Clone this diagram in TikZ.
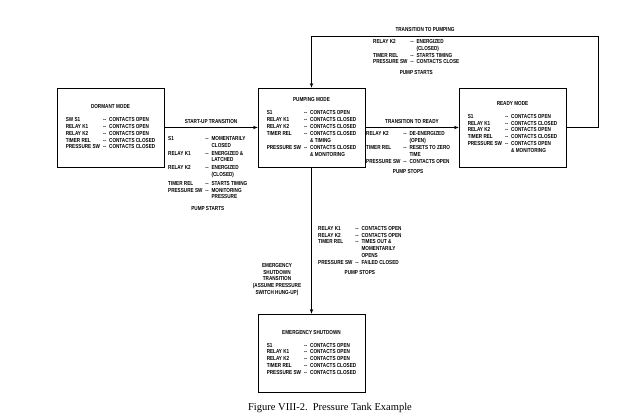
\documentclass[tikz,border=0pt]{standalone}
\usepackage{fontspec}
\setmainfont{Liberation Serif}
\newfontfamily\platefont[FakeStretch=0.8]{Liberation Sans}
\usetikzlibrary{arrows.meta,positioning}

\tikzset{
  modebox/.style={draw, line width=0.8pt, minimum width=107pt, minimum height=79pt, inner sep=0pt},
  plate/.style={font=\platefont\bfseries\fontsize{5.8}{6.8}\selectfont, inner sep=0pt},
  flow/.style={line width=0.8pt, -{Stealth[length=4.5pt,width=3.4pt]}},
}
\newcommand{\rowspec}{@{}l@{\hspace{3pt}}l@{\hspace{3pt}}l@{}}

\begin{document}
\begin{tikzpicture}[x=1pt,y=-1pt]
  \useasboundingbox (0,0) rectangle (635,420);

  % Drawing box Dormant mode
  \node [modebox, plate] (dormant) at (110.5,127.5) {%
    \begin{tabular}{\rowspec}
      \multicolumn{3}{c}{DORMANT MODE}\\[6pt]
      SW S1 & -- & CONTACTS OPEN\\
      RELAY K1 & -- & CONTACTS OPEN\\
      RELAY K2 & -- & CONTACTS OPEN\\
      TIMER REL & -- & CONTACTS CLOSED\\
      PRESSURE SW & -- & CONTACTS CLOSED
    \end{tabular}};

  % Drawing box Pumping mode
  \node [modebox, plate] (pumping) at (311.5,127.5) {%
    \begin{tabular}{\rowspec}
      \multicolumn{3}{c}{PUMPING MODE}\\[7pt]
      S1 & -- & CONTACTS OPEN\\
      RELAY K1 & -- & CONTACTS CLOSED\\
      RELAY K2 & -- & CONTACTS CLOSED\\
      TIMER REL & -- & CONTACTS CLOSED\\
      & & \& TIMING\\[1pt]
      PRESSURE SW & -- & CONTACTS CLOSED\\
      & & \& MONITORING
    \end{tabular}};

  % Drawing box Ready mode
  \node [modebox, plate] (ready) at (512.5,127.5) {%
    \begin{tabular}{\rowspec}
      \multicolumn{3}{c}{READY MODE}\\[6pt]
      S1 & -- & CONTACTS OPEN\\
      RELAY K1 & -- & CONTACTS CLOSED\\
      RELAY K2 & -- & CONTACTS OPEN\\
      TIMER REL & -- & CONTACTS CLOSED\\
      PRESSURE SW & -- & CONTACTS OPEN\\
      & & \& MONITORING
    \end{tabular}};

  % Drawing box Emergency shutdown
  \node [modebox, plate, minimum height=78pt] (shutdown) at (311.5,353) {%
    \begin{tabular}{\rowspec}
      \multicolumn{3}{c}{EMERGENCY SHUTDOWN}\\[6pt]
      S1 & -- & CONTACTS OPEN\\
      RELAY K1 & -- & CONTACTS OPEN\\
      RELAY K2 & -- & CONTACTS OPEN\\
      TIMER REL & -- & CONTACTS CLOSED\\
      PRESSURE SW & -- & CONTACTS CLOSED
    \end{tabular}};

  % Drawing start-up transition
  \draw [flow] (dormant.east) -- (pumping.west)
    node [midway, above=4pt, plate] (startuplbl) {START-UP TRANSITION};
  \node [plate, anchor=north west] (startup) at (168,135.5) {%
    \begin{tabular}{\rowspec}
      S1 & -- & MOMENTARILY\\
      & & CLOSED\\[1pt]
      RELAY K1 & -- & ENERGIZED \&\\
      & & LATCHED\\[1pt]
      RELAY K2 & -- & ENERGIZED\\
      & & (CLOSED)\\[2pt]
      TIMER REL & -- & STARTS TIMING\\
      PRESSURE SW & -- & MONITORING\\
      & & PRESSURE\\[5pt]
      \multicolumn{3}{c}{PUMP STARTS}
    \end{tabular}};

  % Drawing transition to ready
  \draw [flow] (pumping.east) -- (ready.west)
    node [midway, above=4pt, plate] (readylbl) {TRANSITION TO READY};
  \node [plate, anchor=north west] (toready) at (366,131) {%
    \begin{tabular}{\rowspec}
      RELAY K2 & -- & DE-ENERGIZED\\
      & & (OPEN)\\
      TIMER REL & -- & RESETS TO ZERO\\
      & & TIME\\
      PRESSURE SW & -- & CONTACTS OPEN\\[4pt]
      \multicolumn{3}{c}{PUMP STOPS}
    \end{tabular}};

  % Drawing transition to pumping
  \coordinate (loopcorner) at (598,36.5);
  \draw [flow] (ready.east) -| (loopcorner) -| (pumping.north);
  \node [plate, anchor=base] (pumpinglbl) at (425,31.5) {TRANSITION TO PUMPING};
  \node [plate, anchor=north west] (topumping) at (373,38.5) {%
    \begin{tabular}{\rowspec}
      RELAY K2 & -- & ENERGIZED\\
      & & (CLOSED)\\
      TIMER REL & -- & STARTS TIMING\\
      PRESSURE SW & -- & CONTACTS CLOSE\\[4pt]
      \multicolumn{3}{c}{PUMP STARTS}
    \end{tabular}};

  % Drawing emergency shutdown transition
  \draw [flow] (pumping.south) -- (shutdown.north);
  \node [plate, align=center, anchor=north] (shutdownlbl) at (277,263) {%
    EMERGENCY\\ SHUTDOWN\\ TRANSITION\\ (ASSUME PRESSURE\\ SWITCH HUNG-UP)};
  \node [plate, anchor=north west] (toshutdown) at (318,225.3) {%
    \begin{tabular}{\rowspec}
      RELAY K1 & -- & CONTACTS OPEN\\
      RELAY K2 & -- & CONTACTS OPEN\\
      TIMER REL & -- & TIMES OUT \&\\
      & & MOMENTARILY\\
      & & OPENS\\
      PRESSURE SW & -- & FAILED CLOSED\\[3pt]
      \multicolumn{3}{c}{PUMP STOPS}
    \end{tabular}};

  % Marking caption
  \node [font=\fontsize{10.5}{12}\selectfont, anchor=base] (caption) at (330,410)
    {Figure VIII-2.\ \ Pressure Tank Example};
\end{tikzpicture}
\end{document}
